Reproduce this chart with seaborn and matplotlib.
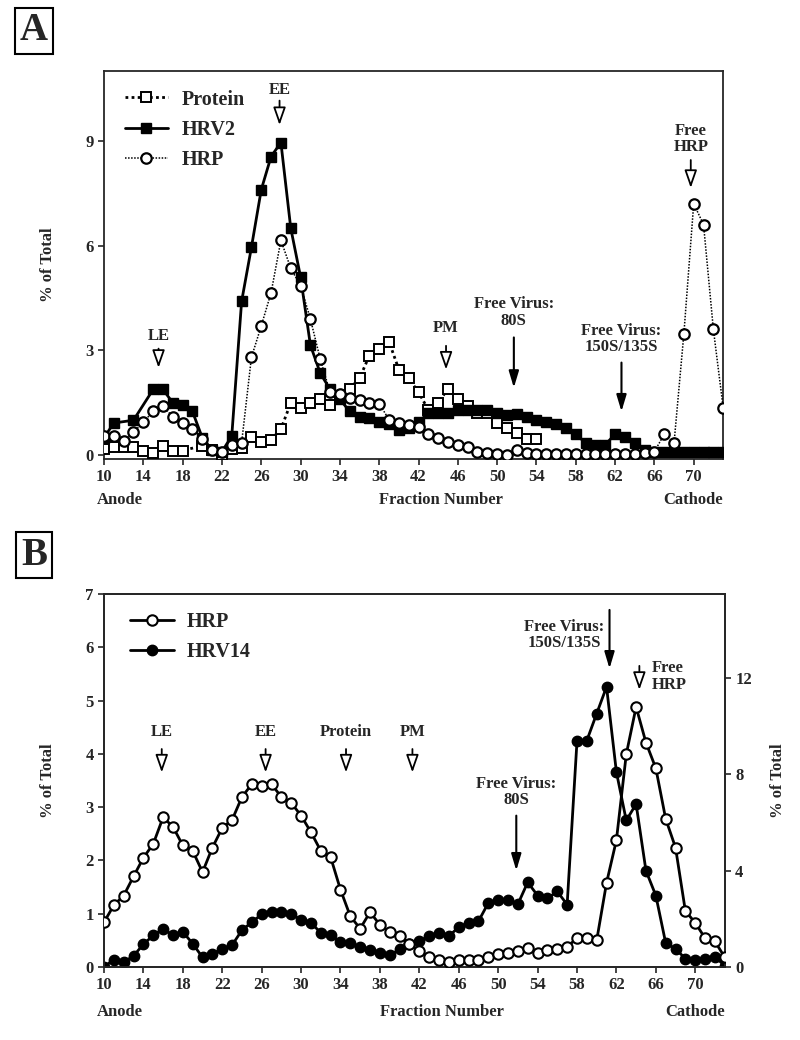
import numpy as np
import pandas as pd
import matplotlib
matplotlib.use("Agg")
import matplotlib.pyplot as plt
import matplotlib.transforms as mtransforms
import seaborn as sns

# ---------------- Data: panel A ----------------
protein_x = [10, 11, 12, 13, 14, 15, 16, 17, 18, 20, 21, 22, 23, 24, 25, 26, 27, 28, 29, 30,
             31, 32, 33, 34, 35, 36, 37, 38, 39, 40, 41, 42, 43, 44, 45, 46, 47, 48, 49, 50,
             51, 52, 53, 54]
protein_y = [0.17, 0.24, 0.23, 0.23, 0.13, 0.05, 0.27, 0.13, 0.13, 0.27, 0.15, 0.0, 0.17, 0.2,
             0.52, 0.39, 0.44, 0.75, 1.49, 1.35, 1.49, 1.6, 1.45, 1.6, 1.9, 2.2, 2.85, 3.05,
             3.25, 2.45, 2.2, 1.8, 1.3, 1.5, 1.9, 1.6, 1.4, 1.2, 1.2, 0.93, 0.77, 0.63, 0.45, 0.45]

hrv2_x = [10, 11, 13, 15, 16, 17, 18, 19, 20, 21, 22, 23, 24, 25, 26, 27, 28, 29, 30, 31,
          32, 33, 34, 35, 36, 37, 38, 39, 40, 41, 42, 43, 44, 45, 46, 47, 48, 49, 50, 51,
          52, 53, 54, 55, 56, 57, 58, 59, 60, 61, 62, 63, 64, 65, 66, 67, 68, 69, 70, 71,
          72, 73]
hrv2_y = [0.5, 0.92, 1.0, 1.88, 1.88, 1.5, 1.45, 1.25, 0.5, 0.15, 0.1, 0.55, 4.4, 5.95, 7.6,
          8.55, 8.95, 6.5, 5.1, 3.15, 2.35, 1.88, 1.6, 1.25, 1.1, 1.05, 0.95, 0.9, 0.72, 0.77,
          0.95, 1.2, 1.22, 1.2, 1.28, 1.3, 1.28, 1.3, 1.22, 1.15, 1.18, 1.1, 1.0, 0.95, 0.9,
          0.78, 0.6, 0.35, 0.3, 0.3, 0.6, 0.52, 0.35, 0.15, 0.1, 0.1, 0.1, 0.1, 0.1, 0.1,
          0.1, 0.1]

hrpA_x = list(range(10, 74))
hrpA_y = [0.55, 0.55, 0.4, 0.65, 0.95, 1.25, 1.4, 1.1, 0.92, 0.74, 0.45, 0.15, 0.1, 0.3,
          0.35, 2.8, 3.7, 4.65, 6.15, 5.35, 4.85, 3.9, 2.75, 1.8, 1.75, 1.64, 1.59, 1.5,
          1.47, 1.02, 0.92, 0.87, 0.82, 0.6, 0.48, 0.39, 0.29, 0.22, 0.1, 0.07, 0.03, 0.0,
          0.14, 0.06, 0.03, 0.03, 0.03, 0.03, 0.03, 0.03, 0.03, 0.03, 0.03, 0.03, 0.03,
          0.05, 0.1, 0.6, 0.35, 3.48, 7.2, 6.6, 3.6, 1.35]

# ---------------- Data: panel B ----------------
hrpB_x = list(range(10, 74))
hrpB_y = [0.84, 1.16, 1.34, 1.7, 2.05, 2.31, 2.81, 2.63, 2.28, 2.18, 1.78, 2.24, 2.61, 2.76,
          3.19, 3.43, 3.39, 3.43, 3.19, 3.08, 2.84, 2.53, 2.18, 2.06, 1.45, 0.95, 0.72, 1.03,
          0.79, 0.66, 0.58, 0.44, 0.3, 0.19, 0.14, 0.1, 0.13, 0.13, 0.14, 0.19, 0.24, 0.27,
          0.3, 0.36, 0.27, 0.31, 0.33, 0.38, 0.54, 0.54, 0.5, 1.58, 2.38, 3.99, 4.88, 4.21,
          3.73, 2.78, 2.24, 1.05, 0.83, 0.54, 0.48, 0.18]

hrv14_x = list(range(10, 74))
hrv14_y = [0.0, 0.31, 0.2, 0.46, 0.95, 1.31, 1.59, 1.31, 1.46, 0.97, 0.4, 0.55, 0.75, 0.91,
           1.53, 1.86, 2.19, 2.28, 2.28, 2.19, 1.97, 1.84, 1.42, 1.33, 1.02, 1.0, 0.84, 0.69,
           0.58, 0.49, 0.73, 0.97, 1.08, 1.28, 1.42, 1.28, 1.66, 1.84, 1.9, 2.66, 2.79, 2.79,
           2.61, 3.52, 2.97, 2.85, 3.14, 2.59, 9.38, 9.41, 10.53, 11.64, 8.1, 6.09, 6.77, 4.0,
           2.97, 1.0, 0.75, 0.35, 0.31, 0.35, 0.42, 0.05]

x_ticks = list(range(10, 71, 4))
yA_ticks = [0, 3, 6, 9]
yB_left_ticks = list(range(0, 8))
yB_right_ticks = [0, 4, 8, 12]

# ---------------- Style ----------------
sns.set_style("ticks")
plt.rcParams["font.family"] = ["Liberation Serif", "DejaVu Serif"]
plt.rcParams["font.weight"] = "bold"
plt.rcParams["axes.labelweight"] = "bold"
plt.rcParams["axes.linewidth"] = 1.3
plt.rcParams["xtick.major.width"] = 1.2
plt.rcParams["ytick.major.width"] = 1.2
plt.rcParams["xtick.major.size"] = 4
plt.rcParams["ytick.major.size"] = 4
plt.rcParams["xtick.direction"] = "out"
plt.rcParams["ytick.direction"] = "out"

TICK_FS = 12
TXT_FS = 12
LEG_FS = 14.5

fig = plt.figure(figsize=(8, 10.4), dpi=100)
axA = fig.add_axes([0.13, 0.559, 0.774, 0.3728])
axB = fig.add_axes([0.13, 0.0702, 0.776, 0.3587])

# ---------------- Panel A ----------------
sns.lineplot(x=protein_x, y=protein_y, ax=axA, color="black", linestyle=(0, (1, 1.2)),
             lw=2.0, marker="s", markersize=7.5, markerfacecolor="white",
             markeredgecolor="black", markeredgewidth=1.4, label="Protein", zorder=3)
sns.lineplot(x=hrv2_x, y=hrv2_y, ax=axA, color="black", linestyle="-", lw=2.0,
             marker="s", markersize=7.5, markerfacecolor="black", markeredgecolor="black",
             markeredgewidth=1.0, label="HRV2", zorder=4)
sns.lineplot(x=hrpA_x, y=hrpA_y, ax=axA, color="black", linestyle=(0, (1, 1)), lw=1.1,
             marker="o", markersize=7.5, markerfacecolor="white", markeredgecolor="black",
             markeredgewidth=1.6, label="HRP", zorder=5)

axA.set_xlim(10, 73)
axA.set_ylim(-0.1, 11.0)
axA.set_xticks(x_ticks)
axA.set_yticks(yA_ticks)
axA.tick_params(labelsize=TICK_FS)
axA.set_xlabel("")
axA.set_ylabel("% of Total", fontsize=TXT_FS, fontweight="bold", labelpad=21)

axA.legend(loc="upper left", bbox_to_anchor=(0.018, 0.978), frameon=False,
           fontsize=LEG_FS, handlelength=2.1, handletextpad=0.68, labelspacing=0.5,
           borderpad=0, numpoints=1)

open_arrow = dict(arrowstyle="-|>,head_length=0.77,head_width=0.27", facecolor="white",
                  edgecolor="black", lw=1.3, shrinkA=0, shrinkB=0, mutation_scale=14)
solid_arrow = dict(arrowstyle="-|>,head_length=1.0,head_width=0.3", facecolor="black",
                   edgecolor="black", lw=1.5, shrinkA=0, shrinkB=0, mutation_scale=10)


def mark(ax, x, label, y_text, y_from, y_to, arrow, text_x=None, ha="center"):
    tx = x if text_x is None else text_x
    ax.text(tx, y_text, label, ha=ha, va="center", fontsize=TXT_FS, fontweight="bold",
            linespacing=1.05)
    ax.annotate("", xy=(x, y_to), xytext=(x, y_from), arrowprops=arrow)


mark(axA, 15.55, "LE", 3.41, 3.05, 2.5, open_arrow)
mark(axA, 27.86, "EE", 10.45, 10.15, 9.45, open_arrow)
mark(axA, 44.8, "PM", 3.63, 3.13, 2.45, open_arrow)
mark(axA, 51.7, "Free Virus:\n80S", 4.09, 3.37, 1.93, solid_arrow)
mark(axA, 62.65, "Free Virus:\n150S/135S", 3.32, 2.65, 1.25, solid_arrow)
mark(axA, 69.7, "Free\nHRP", 9.05, 8.45, 7.65, open_arrow)

trA = mtransforms.blended_transform_factory(axA.transData, axA.transAxes)
axA.text(9.3, -0.107, "Anode", transform=trA, ha="left", va="center", fontsize=TXT_FS,
         fontweight="bold")
axA.text(44.3, -0.107, "Fraction Number", transform=trA, ha="center", va="center",
         fontsize=TXT_FS, fontweight="bold")
axA.text(73.0, -0.107, "Cathode", transform=trA, ha="right", va="center",
         fontsize=TXT_FS, fontweight="bold")

# ---------------- Panel B ----------------
axB2 = axB.twinx()
sns.lineplot(x=hrv14_x, y=hrv14_y, ax=axB2, color="black", linestyle="-", lw=2.0,
             marker="o", markersize=7.5, markerfacecolor="black", markeredgecolor="black",
             markeredgewidth=1.0, label="HRV14", zorder=3, legend=False)
sns.lineplot(x=hrpB_x, y=hrpB_y, ax=axB, color="black", linestyle="-", lw=2.0,
             marker="o", markersize=7.5, markerfacecolor="white", markeredgecolor="black",
             markeredgewidth=1.5, label="HRP", zorder=4, legend=False)
axB.set_zorder(axB2.get_zorder() + 1)
axB.patch.set_visible(False)

axB.set_xlim(10, 73)
axB.set_ylim(0, 7)
axB2.set_ylim(0, 15.5)
axB.set_xticks(x_ticks)
axB.set_yticks(yB_left_ticks)
axB2.set_yticks(yB_right_ticks)
axB.tick_params(labelsize=TICK_FS)
axB2.tick_params(labelsize=TICK_FS)
axB.set_xlabel("")
axB.set_ylabel("% of Total", fontsize=TXT_FS, fontweight="bold", labelpad=21)
axB2.set_ylabel("% of Total", fontsize=TXT_FS, fontweight="bold", labelpad=13)

hB = [axB.get_lines()[0], axB2.get_lines()[0]]
axB.legend(hB, ["HRP", "HRV14"], loc="upper left", bbox_to_anchor=(0.026, 0.978),
           frameon=False, fontsize=LEG_FS, handlelength=2.15, handletextpad=0.67,
           labelspacing=0.47, borderpad=0, numpoints=1)

mark(axB, 15.86, "LE", 4.41, 4.09, 3.65, open_arrow)
mark(axB, 26.4, "EE", 4.41, 4.09, 3.65, open_arrow)
mark(axB, 34.56, "Protein", 4.41, 4.09, 3.65, open_arrow)
mark(axB, 41.3, "PM", 4.41, 4.09, 3.65, open_arrow)
mark(axB, 51.84, "Free Virus:\n80S", 3.28, 2.84, 1.81, solid_arrow)
mark(axB, 61.3, "Free Virus:\n150S/135S", 6.23, 6.7, 5.6, solid_arrow, text_x=56.7)
mark(axB, 64.33, "Free\nHRP", 5.45, 5.65, 5.2, open_arrow, text_x=65.6, ha="left")

trB = mtransforms.blended_transform_factory(axB.transData, axB.transAxes)
axB.text(9.3, -0.12, "Anode", transform=trB, ha="left", va="center", fontsize=TXT_FS,
         fontweight="bold")
axB.text(44.3, -0.12, "Fraction Number", transform=trB, ha="center", va="center",
         fontsize=TXT_FS, fontweight="bold")
axB.text(73.0, -0.12, "Cathode", transform=trB, ha="right", va="center",
         fontsize=TXT_FS, fontweight="bold")

# ---------------- Panel letters ----------------
box = dict(boxstyle="square,pad=0.12", facecolor="white", edgecolor="black", lw=1.5)
fig.text(0.0425, 0.9705, "A", ha="center", va="center", fontsize=28, fontweight="bold",
         bbox=box)
fig.text(0.0425, 0.4662, "B", ha="center", va="center", fontsize=28, fontweight="bold",
         bbox=box)

fig.savefig("out.png", dpi=100)
